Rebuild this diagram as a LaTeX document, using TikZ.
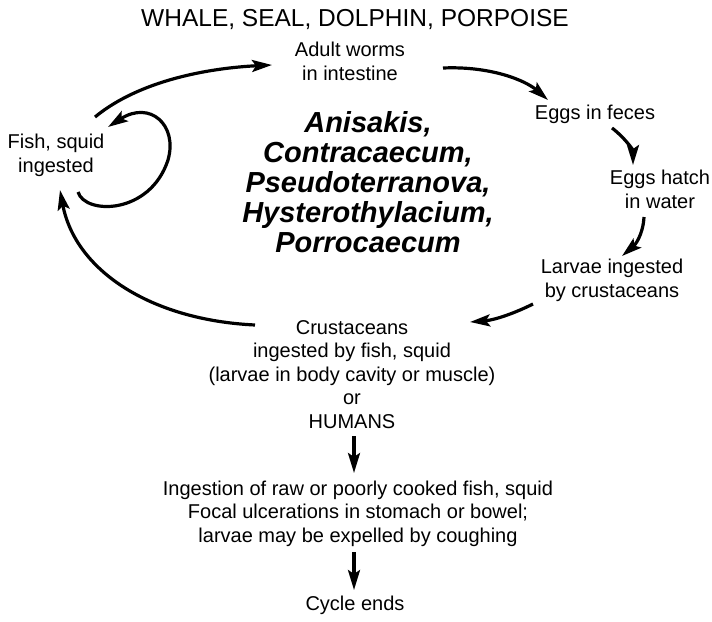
\documentclass[tikz,border=0pt]{standalone}
\usepackage{fontspec}
\setmainfont{Liberation Sans}
\usetikzlibrary{arrows.meta,calc}
\begin{document}
\begin{tikzpicture}[x=1pt,y=-1pt,
  lbl/.style={align=center,inner sep=0pt,anchor=base,font=\fontsize{20}{23.5}\selectfont},
  genusfont/.style={font=\fontsize{29}{30}\selectfont\bfseries\itshape},
  cyc/.style={line width=3.2pt,-{Stealth[length=20pt,width=12pt,inset=4pt]}}]
\useasboundingbox[fill=white] (0,0) rectangle (712,621);
% anchor=base is the baseline of the LAST line of each node
\node[lbl,font=\fontsize{24.5}{28}\selectfont] (title) at (355,26) {WHALE, SEAL, DOLPHIN, PORPOISE};
\node[lbl] (adult) at (350,80) {Adult worms\\in intestine};
\node[lbl] (feces) at (595,119) {Eggs in feces};
\node[lbl] (hatch) at (660,208) {Eggs hatch\\in water};
\node[lbl] (larvae) at (612,297) {Larvae ingested\\by crustaceans};
\node[lbl] (fish) at (56,172) {Fish, squid\\ingested};
\node[lbl,genusfont] (genus) at (368,252) {Anisakis,\\Contracaecum,\\Pseudoterranova,\\Hysterothylacium,\\Porrocaecum};
\node[lbl] (crust) at (352,428) {Crustaceans\\ingested by fish, squid\\(larvae in body cavity or muscle)\\or\\HUMANS};
\node[lbl] (human) at (358,542) {Ingestion of raw or poorly cooked fish, squid\\Focal ulcerations in stomach or bowel;\\larvae may be expelled by coughing};
\node[lbl] (ends) at (355,610) {Cycle ends};
% cycle connectors
\draw[cyc] ($(fish.base)+(39,-55)$) .. controls ($(fish.base)+(84,-92)$) and ($(adult.base)+(-140,-12)$) .. ($(adult.base)+(-78,-15)$);
\draw[cyc] ($(adult.base)+(93,-12)$) .. controls ($(adult.base)+(140,-14)$) and ($(feces.base)+(-70,-39)$) .. ($(feces.base)+(-47,-19)$);
\draw[cyc] ($(feces.base)+(17,9)$) .. controls ($(feces.base)+(30,19)$) and ($(hatch.base)+(-27,-58)$) .. ($(hatch.base)+(-27,-43)$);
\draw[cyc] ($(hatch.base)+(-16,9)$) .. controls ($(hatch.base)+(-17,27)$) and ($(larvae.base)+(23,-52)$) .. ($(larvae.base)+(10,-41)$);
\draw[cyc] ($(larvae.base)+(-79,7)$) .. controls ($(larvae.base)+(-97,16)$) and ($(crust.base)+(143,-108)$) .. ($(crust.base)+(118,-106)$);
\draw[cyc] ($(crust.base)+(-97,-103)$) .. controls ($(crust.base)+(-202,-108)$) and ($(fish.base)+(19,98)$) .. ($(fish.base)+(4,18)$);
% fish, squid to fish, squid (small loop)
\draw[cyc] ($(fish.base)+(22,20)$) .. controls ($(fish.base)+(29,43)$) and ($(fish.base)+(94,43)$) .. ($(fish.base)+(112,-12)$) .. controls ($(fish.base)+(122,-47)$) and ($(fish.base)+(94,-72)$) .. ($(fish.base)+(52,-45)$);
% to humans branch
\draw[cyc] ($(crust.base)+(2,8)$) -- ($(human.base)+(-4,-69)$);
\draw[cyc] ($(human.base)+(-4,10)$) -- ($(ends.base)+(-1,-20)$);
\end{tikzpicture}
\end{document}
